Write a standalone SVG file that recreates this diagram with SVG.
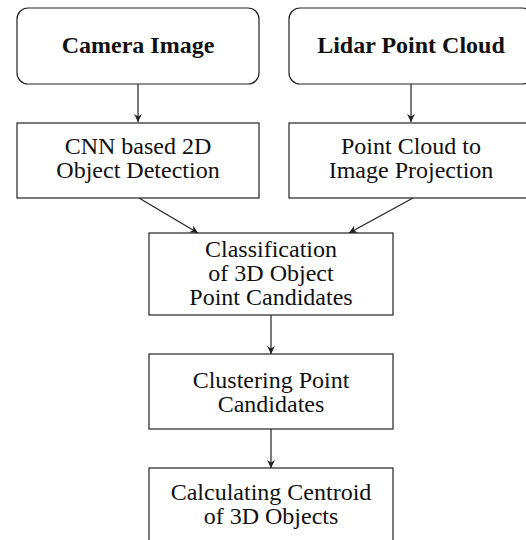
<svg xmlns="http://www.w3.org/2000/svg" width="526" height="540" viewBox="0 0 526 540">
  <style>
    .box { fill: #fff; stroke: #222; stroke-width: 1.2; }
    .lbl { font-family: "Liberation Serif", "Times New Roman", serif; font-size: 24px; fill: #111; text-anchor: middle; }
    .ttl { font-family: "Liberation Serif", "Times New Roman", serif; font-size: 24px; font-weight: bold; fill: #111; text-anchor: middle; }
    .edge { fill: none; stroke: #222; stroke-width: 1.2; marker-end: url(#tip); }
  </style>
  <defs>
    <marker id="tip" viewBox="0 0 10 10" refX="10" refY="5" markerWidth="8" markerHeight="8" markerUnits="userSpaceOnUse" orient="auto">
      <path d="M0,0 L10,5 L0,10 L3,5 Z" fill="#222"/>
    </marker>
  </defs>
  <rect width="526" height="540" fill="#fff"/>

  <g id="connectors">
    <line class="edge" x1="138" y1="84" x2="138" y2="122"/>
    <line class="edge" x1="411" y1="84" x2="411" y2="122"/>
    <line class="edge" x1="139" y1="198" x2="198" y2="233"/>
    <line class="edge" x1="413" y1="198" x2="349" y2="233"/>
    <line class="edge" x1="271" y1="315" x2="271" y2="354"/>
    <line class="edge" x1="271" y1="429" x2="271" y2="468"/>
  </g>

  <g id="camera-image">
    <rect class="box" x="17" y="8" width="242" height="76" rx="11"/>
    <text class="ttl" x="138" y="53">Camera Image</text>
  </g>

  <g id="lidar-point-cloud">
    <rect class="box" x="289" y="8" width="244" height="76" rx="11"/>
    <text class="ttl" x="411" y="53">Lidar Point Cloud</text>
  </g>

  <g id="cnn-detection">
    <rect class="box" x="17" y="123" width="242" height="75"/>
    <text class="lbl" x="138" y="153.5">CNN based 2D</text>
    <text class="lbl" x="138" y="177.5">Object Detection</text>
  </g>

  <g id="projection">
    <rect class="box" x="289" y="123" width="244" height="75"/>
    <text class="lbl" x="411" y="153.5">Point Cloud to</text>
    <text class="lbl" x="411" y="177.5">Image Projection</text>
  </g>

  <g id="classification">
    <rect class="box" x="149" y="233" width="244" height="82"/>
    <text class="lbl" x="271" y="257">Classification</text>
    <text class="lbl" x="271" y="281">of 3D Object</text>
    <text class="lbl" x="271" y="305">Point Candidates</text>
  </g>

  <g id="clustering">
    <rect class="box" x="149" y="354" width="244" height="75"/>
    <text class="lbl" x="271" y="387.5">Clustering Point</text>
    <text class="lbl" x="271" y="411.5">Candidates</text>
  </g>

  <g id="centroid">
    <rect class="box" x="149" y="468" width="244" height="76"/>
    <text class="lbl" x="271" y="499.5">Calculating Centroid</text>
    <text class="lbl" x="271" y="523.5">of 3D Objects</text>
  </g>
</svg>
